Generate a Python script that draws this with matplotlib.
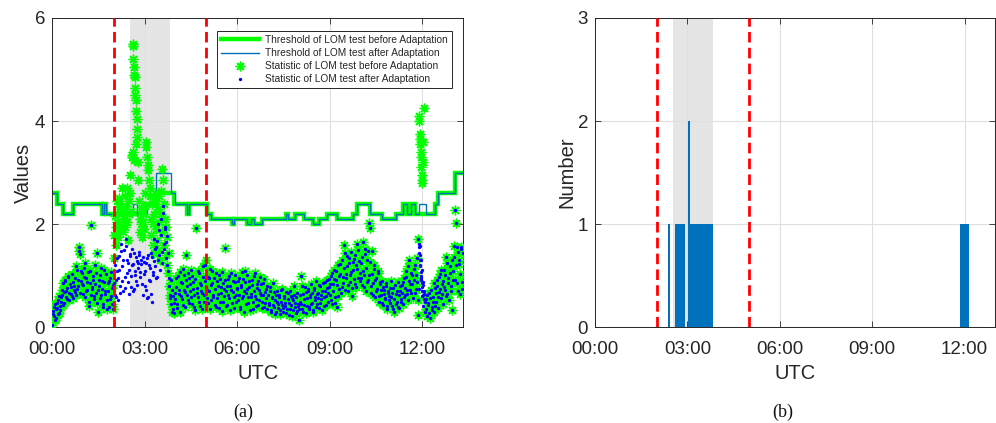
import numpy as np
import matplotlib
matplotlib.use("Agg")
import matplotlib.pyplot as plt

plt.rcParams['font.family'] = ['Liberation Sans', 'DejaVu Sans']

# ---------------- data ----------------
hour_ticks = [0, 3, 6, 9, 12]
hour_labels = ["00:00", "03:00", "06:00", "09:00", "12:00"]
quiet_bounds = [2.0, 5.0]          # red dashed lines (h)
storm_span = [2.52, 3.82]          # grey shaded period (h)

# threshold step functions (edges in hours, one level per interval)
thr_before_edges = [0, 0.15, 0.37, 0.67, 1.61, 1.69, 1.75, 3.02, 3.37, 3.95, 4.37, 4.44,
                    5.02, 5.15, 5.83, 5.90, 6.31, 6.45, 6.55, 6.80, 7.59, 7.66, 7.88,
                    8.17, 8.47, 8.64, 8.91, 9.23, 9.77, 9.90, 10.29, 10.69, 11.16,
                    11.39, 11.52, 11.63, 11.77, 12.42, 12.50, 13.07, 13.33]
thr_before_levels = [2.6, 2.4, 2.2, 2.4, 2.2, 2.4, 2.2, 2.4, 2.6, 2.4, 2.2, 2.4,
                     2.2, 2.1, 2.0, 2.1, 2.0, 2.1, 2.0, 2.1, 2.2, 2.1, 2.2,
                     2.1, 2.0, 2.1, 2.2, 2.1, 2.2, 2.4, 2.2, 2.1, 2.2,
                     2.4, 2.2, 2.4, 2.2, 2.4, 2.6, 3.0]
thr_after_edges = [0, 0.15, 0.37, 0.67, 1.61, 1.69, 1.75, 2.64, 2.76, 3.07, 3.37, 3.85,
                   3.99, 4.37, 4.44, 5.02, 5.15, 5.83, 5.90, 6.31, 6.45, 6.55, 6.80,
                   7.59, 7.66, 7.88, 8.17, 8.47, 8.64, 8.91, 9.23, 9.77, 9.90, 10.29,
                   10.69, 11.16, 11.39, 11.52, 11.63, 11.77, 11.88, 12.13, 12.42,
                   12.50, 13.07, 13.33]
thr_after_levels = [2.6, 2.4, 2.2, 2.4, 2.2, 2.4, 2.2, 2.4, 2.2, 2.4, 3.0, 2.6,
                    2.4, 2.2, 2.4, 2.2, 2.1, 2.0, 2.1, 2.0, 2.1, 2.0,
                    2.1, 2.2, 2.1, 2.2, 2.1, 2.0, 2.1, 2.2, 2.1, 2.2, 2.4,
                    2.2, 2.1, 2.2, 2.4, 2.2, 2.4, 2.2, 2.4, 2.2, 2.4, 2.6, 3.0]

# LOM statistic after adaptation, epochs at even minutes (0, 2, 4, ... min)
stat_after_even = [
    # 00h
    0.05, 0.32, 0.22, 0.45, 0.18, 0.38, 0.52, 0.28, 0.42, 0.58,
    0.62, 0.85, 0.48, 0.92, 0.70, 0.55, 1.00, 0.66, 0.78, 0.60,
    0.88, 0.72, 0.96, 0.62, 1.12, 0.80, 1.55, 1.42, 0.90, 1.06,
    # 01h
    0.82, 1.15, 0.58, 0.96, 0.72, 1.08, 0.50, 0.86, 1.98, 0.74,
    0.92, 0.55, 1.20, 0.66, 1.45, 0.30, 0.80, 1.02, 0.62, 0.90,
    0.46, 1.12, 0.70, 0.52, 0.86, 0.40, 0.96, 0.60, 0.76, 0.36,
    # 02h
    1.28, 0.62, 0.92, 1.10, 0.52, 1.38, 0.80, 1.62, 1.18, 0.70,
    1.50, 0.98, 1.72, 1.30, 0.88, 1.12, 1.42, 0.78, 1.52, 1.22,
    0.74, 1.02, 1.36, 0.82, 1.24, 1.46, 1.08, 1.30, 0.62, 1.26,
    # 03h
    1.10, 0.72, 1.34, 0.58, 1.20, 0.90, 1.44, 0.50, 1.02, 1.28,
    1.52, 0.96, 1.68, 1.30, 1.88, 1.12, 2.10, 1.46, 2.36, 1.62,
    1.94, 1.34, 1.78, 1.10, 0.80, 0.62, 0.45, 0.72, 0.35, 0.28,
    # 04h
    0.55, 0.95, 0.38, 0.72, 1.08, 0.60, 0.85, 0.44, 1.02, 0.68,
    1.40, 0.80, 0.52, 0.96, 0.70, 1.12, 0.46, 0.88, 0.62, 0.34,
    1.93, 0.76, 0.58, 1.05, 0.42, 0.82, 0.66, 1.18, 0.50, 0.90,
    # 05h
    1.30, 0.72, 0.48, 0.96, 0.36, 0.82, 1.10, 0.58, 0.74, 0.40,
    0.90, 0.64, 1.02, 0.50, 0.78, 0.32, 0.86, 0.60, 1.54, 0.70,
    0.44, 0.94, 0.56, 0.80, 1.06, 0.48, 0.68, 0.38, 0.88, 0.62,
    # 06h
    0.74, 0.52, 0.96, 0.40, 0.82, 1.08, 0.60, 0.30, 0.88, 0.66,
    1.02, 0.48, 0.78, 0.58, 0.92, 0.36, 0.70, 1.06, 0.54, 0.84,
    0.44, 0.72, 0.98, 0.62, 0.50, 0.86, 0.40, 0.68, 0.56, 0.80,
    # 07h
    0.62, 0.44, 0.78, 0.34, 0.58, 0.86, 0.40, 0.52, 0.30, 0.70,
    0.46, 0.62, 0.26, 0.50, 0.74, 0.38, 0.56, 0.42, 0.28, 0.66,
    0.48, 0.36, 0.60, 0.22, 0.52, 0.80, 0.40, 0.58, 0.32, 0.46,
    # 08h
    0.15, 0.50, 0.99, 0.36, 0.64, 0.44, 0.78, 0.28, 0.56, 0.70,
    0.40, 0.62, 0.84, 0.48, 0.34, 0.72, 0.58, 0.90, 0.46, 0.66,
    0.38, 0.80, 0.54, 0.70, 0.42, 0.88, 0.60, 0.76, 0.50, 0.94,
    # 09h
    0.62, 1.00, 0.46, 0.84, 1.12, 0.58, 0.92, 0.40, 1.20, 0.74,
    1.04, 0.66, 1.30, 0.86, 1.60, 1.45, 0.96, 1.18, 0.70, 1.34,
    0.88, 1.08, 0.60, 1.26, 0.94, 1.40, 0.78, 1.14, 1.50, 0.90,
    # 10h
    1.24, 0.82, 1.65, 1.02, 1.42, 0.70, 1.30, 0.92, 2.02, 1.93,
    0.66, 1.48, 0.86, 1.20, 0.58, 0.96, 0.74, 1.06, 0.50, 0.84,
    0.62, 0.90, 0.44, 0.72, 0.56, 0.80, 0.36, 0.66, 0.52, 0.76,
    # 11h
    0.58, 0.42, 0.76, 0.30, 0.64, 0.50, 0.88, 0.38, 0.70, 0.54,
    0.82, 0.46, 0.96, 0.62, 1.10, 0.72, 0.52, 1.30, 0.84, 0.66,
    1.02, 0.56, 0.92, 1.20, 0.74, 1.35, 0.24, 1.45, 1.20, 0.95,
    # 12h
    0.60, 0.42, 0.70, 0.30, 0.54, 0.22, 0.48, 0.66, 0.18, 0.40,
    0.58, 0.30, 0.76, 0.50, 0.92, 0.38, 0.68, 1.04, 0.56, 0.84,
    0.46, 1.12, 0.72, 1.36, 0.64, 0.96, 0.52, 1.18, 0.80, 0.34,
    # 13h
    1.10, 1.58, 2.28, 2.02, 0.86, 1.46, 1.22, 0.64, 1.52, 0.74,
]

# LOM statistic after adaptation, epochs at odd minutes (1, 3, 5, ... min)
stat_after_odd = [
    # 00h
    0.25, 0.40, 0.15, 0.35, 0.48, 0.26, 0.60, 0.34, 0.50, 0.72,
    0.44, 0.68, 0.90, 0.58, 0.76, 0.98, 0.52, 0.84, 0.64, 1.04,
    0.56, 0.80, 0.68, 1.18, 0.74, 0.92, 1.48, 0.66, 1.10, 0.84,
    # 01h
    0.64, 0.98, 1.24, 0.70, 0.88, 0.42, 1.10, 0.62, 0.78, 1.00,
    0.60, 0.84, 1.06, 0.48, 0.72, 0.92, 0.56, 1.16, 0.74, 0.40,
    0.88, 0.64, 1.04, 0.36, 0.70, 0.90, 0.54, 1.08, 0.46, 0.82,
    # 02h
    0.86, 1.20, 0.58, 1.34, 0.96, 1.12, 0.66, 1.48, 0.90, 1.30,
    0.76, 1.58, 1.06, 1.24, 0.64, 1.38, 1.00, 1.20, 0.70, 1.44,
    1.10, 0.90, 1.28, 1.16, 1.40, 0.98, 1.22, 0.84, 1.36, 1.04,
    # 03h
    0.80, 1.24, 0.56, 1.40, 0.92, 1.16, 0.64, 1.36, 1.08, 1.72,
    1.18, 1.56, 0.98, 2.00, 1.40, 1.80, 1.24, 2.22, 1.52, 1.90,
    1.66, 1.20, 1.44, 0.96, 0.56, 0.92, 0.30, 0.60, 0.48, 0.66,
    # 04h
    0.78, 0.46, 1.00, 0.64, 0.30, 0.88, 0.54, 1.14, 0.72, 0.40,
    0.92, 0.62, 1.06, 0.48, 0.84, 0.58, 1.00, 0.74, 0.40, 0.94,
    0.66, 1.10, 0.50, 0.86, 0.70, 0.36, 0.98, 0.62, 1.20, 0.78,
    # 05h
    0.56, 0.98, 0.70, 1.14, 0.52, 0.86, 0.62, 0.96, 0.44, 1.06,
    0.56, 0.80, 0.38, 0.94, 0.66, 1.08, 0.50, 0.74, 0.92, 0.42,
    0.80, 0.62, 1.00, 0.34, 0.72, 0.90, 0.58, 1.02, 0.50, 0.76,
    # 06h
    0.90, 0.62, 0.36, 0.78, 0.56, 0.94, 0.70, 1.10, 0.46, 0.74,
    0.58, 0.90, 0.34, 0.64, 0.82, 0.50, 1.00, 0.60, 0.42, 0.76,
    0.90, 0.52, 0.66, 0.84, 0.38, 0.62, 0.94, 0.48, 0.74, 0.36,
    # 07h
    0.48, 0.70, 0.30, 0.56, 0.44, 0.68, 0.26, 0.62, 0.50, 0.38,
    0.58, 0.34, 0.72, 0.44, 0.30, 0.60, 0.48, 0.68, 0.36, 0.54,
    0.24, 0.70, 0.44, 0.56, 0.34, 0.62, 0.48, 0.28, 0.66, 0.42,
    # 08h
    0.36, 0.62, 0.46, 0.80, 0.30, 0.54, 0.68, 0.42, 0.74, 0.36,
    0.58, 0.46, 0.66, 0.30, 0.76, 0.52, 0.40, 0.64, 0.56, 0.82,
    0.48, 0.62, 0.34, 0.86, 0.58, 0.70, 0.44, 0.92, 0.66, 0.78,
    # 09h
    0.84, 0.52, 1.06, 0.70, 0.94, 0.48, 1.10, 0.82, 0.60, 1.00,
    1.22, 0.78, 0.98, 1.16, 0.72, 1.04, 1.38, 0.82, 1.24, 1.02,
    1.46, 0.76, 1.12, 1.32, 0.84, 1.20, 1.62, 0.96, 1.28, 1.06,
    # 10h
    0.96, 1.36, 1.10, 0.78, 1.52, 1.16, 0.88, 1.48, 1.02, 1.26,
    0.80, 1.04, 0.62, 1.14, 0.92, 0.70, 1.10, 0.60, 0.88, 0.72,
    0.48, 0.78, 0.64, 0.54, 0.86, 0.42, 0.70, 0.60, 0.48, 0.90,
    # 11h
    0.66, 0.36, 0.54, 0.82, 0.46, 0.70, 0.40, 0.62, 0.80, 0.50,
    0.66, 0.88, 0.58, 0.76, 0.98, 0.64, 1.18, 0.90, 0.72, 1.06,
    0.84, 1.14, 0.66, 1.02, 0.88, 0.52, 0.74, 1.58, 1.30, 1.12,
    # 12h
    0.82, 0.64, 0.50, 0.36, 0.62, 0.44, 0.28, 0.56, 0.72, 0.34,
    0.50, 0.86, 0.42, 0.66, 0.80, 0.58, 0.98, 0.74, 1.12, 0.64,
    0.90, 0.78, 1.02, 0.60, 1.24, 0.86, 1.06, 0.70, 1.30, 0.92,
    # 13h
    1.36, 0.92, 1.20, 1.55, 0.70, 1.30, 1.04, 1.56, 0.88, 1.44,
]

# periods where the statistic before adaptation differs
storm_window = [2.0, 3.8]
noon_window = [11.88, 12.09]

storm_t = [2.00, 2.02, 2.04, 2.06, 2.08, 2.10, 2.12, 2.14, 2.16, 2.18, 2.20, 2.22, 2.24,
           2.26, 2.28, 2.30, 2.32, 2.34, 2.36, 2.38, 2.40, 2.42, 2.44, 2.46, 2.48, 2.50,
           2.52, 2.54, 2.56, 2.58, 2.60, 2.61, 2.62, 2.63, 2.64, 2.65, 2.66, 2.67, 2.68,
           2.69, 2.70, 2.71, 2.72, 2.73, 2.74, 2.75, 2.76, 2.78, 2.80, 2.82, 2.84, 2.86,
           2.88, 2.90, 2.92, 2.94, 2.96, 2.98, 3.00, 3.02, 3.04, 3.06, 3.08, 3.10, 3.12,
           3.14, 3.16, 3.18, 3.20, 3.22, 3.24, 3.26, 3.28, 3.30, 3.32, 3.34, 3.36, 3.38,
           3.40, 3.42, 3.44, 3.46, 3.48, 3.50, 3.52, 3.54, 3.56, 3.58, 3.60, 3.62, 3.64,
           3.66, 3.68, 3.70, 3.72, 3.74, 3.76, 3.78]
storm_before = [1.35, 1.80, 2.15, 1.60, 1.95, 2.45, 2.05, 1.75, 2.50, 2.30, 1.90, 2.40, 2.20,
                2.00, 2.70, 1.85, 2.25, 2.10, 2.55, 1.95, 2.35, 2.70, 2.05, 1.70, 2.45, 2.20,
                2.95, 2.60, 2.25, 3.35, 3.30, 5.45, 5.50, 5.20, 3.40, 5.05, 4.90, 3.25, 4.85,
                4.65, 4.50, 3.55, 4.40, 4.20, 4.05, 3.85, 3.70, 3.20, 2.85, 2.45, 2.10, 1.85,
                2.30, 2.00, 1.75, 2.20, 2.05, 1.90, 2.35, 2.60, 3.60, 3.50, 3.30, 3.15, 3.05,
                2.85, 2.70, 2.55, 2.10, 1.80, 2.40, 1.60, 2.00, 2.20, 1.45, 2.60, 1.90, 2.45,
                1.70, 2.30, 1.50, 2.55, 2.05, 1.30, 2.20, 2.65, 1.85, 3.08, 2.85, 2.40, 1.60,
                2.10, 1.40, 1.95, 1.20, 1.75, 1.05, 1.45]

noon_t = [11.86, 11.90, 11.91, 11.92, 11.93, 11.94, 11.95, 11.96, 11.97, 11.98, 11.99,
          12.00, 12.01, 12.02, 12.05]
noon_before = [1.71, 4.10, 4.00, 3.75, 3.65, 3.55, 3.40, 3.30, 3.10, 2.95, 2.85, 2.80,
               3.60, 3.20, 4.25]
noon_after = [1.71, 1.62, 1.55, 1.40, 1.30, 1.18, 1.08, 1.00, 0.92, 0.85, 0.78, 0.70,
              0.62, 0.88, 0.55]

# (b) number of detections
bar_start = [2.37, 2.595, 3.02, 3.07, 11.84]
bar_end = [2.42, 2.93, 3.07, 3.84, 12.13]
bar_count = [1, 1, 2, 1, 1]

# ---------------- styling ----------------
AX_COL = '#262626'
GRID_COL = '#DFDFDF'
SPAN_COL = '#E5E5E5'
GREEN = '#00FF00'
MBLUE = '#0072BD'


def style_axes(ax):
    ax.tick_params(direction='in', top=True, right=True, length=4, width=0.6,
                   colors=AX_COL, labelsize=13.5)
    ax.tick_params(axis='x', pad=10)
    ax.tick_params(axis='y', pad=5)
    for s in ax.spines.values():
        s.set_color(AX_COL)
        s.set_linewidth(0.7)
    ax.grid(True, color=GRID_COL, linewidth=0.8)
    ax.set_axisbelow(True)
    ax.set_xticks(hour_ticks)
    ax.set_xticklabels(hour_labels)


fig = plt.figure(figsize=(9.96, 4.23), dpi=100)
W, H = 996.0, 423.0
ax1 = fig.add_axes([52 / W, 1 - 327.3 / H, (463.3 - 52) / W, (327.3 - 18) / H])
ax2 = fig.add_axes([595 / W, 1 - 327.3 / H, (995.3 - 595) / W, (327.3 - 18) / H])

# ---- (a)
t_even = np.arange(len(stat_after_even)) * 2 / 60.0
t_odd = (np.arange(len(stat_after_odd)) * 2 + 1) / 60.0
t_main = np.concatenate([t_even, t_odd])
after = np.concatenate([stat_after_even, stat_after_odd])
in_storm = (t_main >= storm_window[0]) & (t_main < storm_window[1])
in_noon = (t_main >= noon_window[0]) & (t_main < noon_window[1])
same = ~(in_storm | in_noon)

green_t = np.concatenate([t_main[same], storm_t, noon_t])
green_v = np.concatenate([after[same], storm_before, noon_before])
blue_t = np.concatenate([t_main, noon_t])
blue_v = np.concatenate([after, noon_after])

ax1.axvspan(storm_span[0], storm_span[1], color=SPAN_COL, zorder=0.5, lw=0)
h1 = ax1.stairs(thr_before_levels, thr_before_edges, color=GREEN, lw=3.2,
                baseline=None, zorder=2, label='Threshold of LOM test before Adaptation')
h2 = ax1.stairs(thr_after_levels, thr_after_edges, color=MBLUE, lw=1.0,
                baseline=None, zorder=2.1, label='Threshold of LOM test after Adaptation')
h3, = ax1.plot(green_t, green_v, linestyle='none', marker=(8, 2, 0), ms=7, mew=1.0,
               color=GREEN, zorder=3, label='Statistic of LOM test before Adaptation')
h4, = ax1.plot(blue_t, blue_v, linestyle='none', marker='o', ms=2.4, mew=0,
               color='#0000FF', zorder=3.1, label='Statistic of LOM test after Adaptation')
for xb in quiet_bounds:
    ax1.axvline(xb, color='#FF0000', lw=2.0, dashes=(3.8, 1.9), zorder=4)

ax1.set_xlim(0, 13.33)
ax1.set_ylim(0, 6)
ax1.set_yticks([0, 2, 4, 6])
style_axes(ax1)
ax1.set_xlabel('UTC', fontsize=14.5, color=AX_COL, labelpad=4)
ax1.set_ylabel('Values', fontsize=14.5, color=AX_COL, labelpad=1)

leg = ax1.legend(handles=[h1, h2, h3, h4], loc='upper right',
                 bbox_to_anchor=(0.9725, 0.958), borderaxespad=0, fontsize=7.3,
                 fancybox=False, framealpha=1, edgecolor=AX_COL, handlelength=3.8,
                 handletextpad=0.6, borderpad=0.4, labelspacing=0.3)
leg.get_frame().set_linewidth(0.7)
for txt in leg.get_texts():
    txt.set_color(AX_COL)

# ---- (b)
ax2.axvspan(storm_span[0], storm_span[1], color=SPAN_COL, zorder=0.5, lw=0)
widths = [e - s for s, e in zip(bar_start, bar_end)]
ax2.bar(bar_start, bar_count, width=widths, align='edge', color=MBLUE, lw=0, zorder=2)
for xb in quiet_bounds:
    ax2.axvline(xb, color='#FF0000', lw=2.0, dashes=(3.8, 1.9), zorder=4)
ax2.set_xlim(0, 13.0)
ax2.set_ylim(0, 3)
ax2.set_yticks([0, 1, 2, 3])
style_axes(ax2)
ax2.set_xlabel('UTC', fontsize=14.5, color=AX_COL, labelpad=4)
ax2.set_ylabel('Number', fontsize=14.5, color=AX_COL, labelpad=1)

fig.text(243 / W, 1 - 412 / H, '(a)', ha='center', va='center', fontsize=13,
         family=['Liberation Serif', 'DejaVu Serif'], color='#111111')
fig.text(783 / W, 1 - 412 / H, '(b)', ha='center', va='center', fontsize=13,
         family=['Liberation Serif', 'DejaVu Serif'], color='#111111')

fig.savefig('out.png', dpi=100)
